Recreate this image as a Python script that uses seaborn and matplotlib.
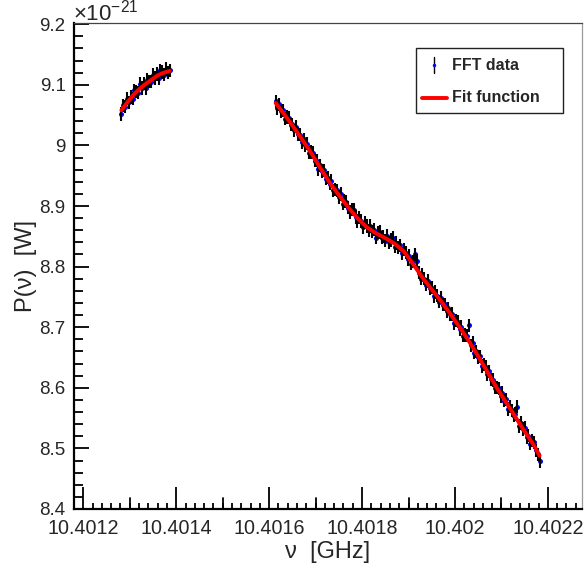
import numpy as np
import pandas as pd
import matplotlib
matplotlib.use("Agg")
import matplotlib.pyplot as plt
from matplotlib.patches import Rectangle
from matplotlib.lines import Line2D
import seaborn as sns

# ---------------- data (frequency offset in kHz from 10.4012 GHz, power in 1e-21 W)
seg1_khz = [82, 86, 90, 94, 98, 102, 106, 110, 114, 118, 122, 126, 130, 134,
            138, 142, 146, 150, 154, 158, 162, 166, 170, 174, 178, 182, 186]
seg1_pow = [9.052, 9.066, 9.064, 9.077, 9.071, 9.080, 9.077, 9.091, 9.089, 9.087,
            9.102, 9.095, 9.102, 9.095, 9.108, 9.106, 9.105, 9.117, 9.111, 9.118,
            9.111, 9.124, 9.121, 9.117, 9.126, 9.120, 9.124]

seg2_khz = [414, 418, 422, 426, 430, 434, 438, 442, 446, 450, 454, 458, 462, 466,
            470, 474, 478, 482, 486, 490, 494, 498, 502, 506, 510, 514, 518, 522,
            526, 530, 534, 538, 542, 546, 550, 554, 558, 562, 566, 570, 574, 578,
            582, 586, 590, 594, 598, 602, 606, 610, 614, 618, 622, 626, 630, 634,
            638, 642, 646, 650, 654, 658, 662, 666, 670, 674, 678, 682, 686, 690,
            694, 698, 702, 706, 710, 714, 718, 722, 726, 730, 734, 738, 742, 746,
            750, 754, 758, 762, 766, 770, 774, 778, 782, 786, 790, 794, 798, 802,
            806, 810, 814, 818, 822, 826, 830, 834, 838, 842, 846, 850, 854, 858,
            862, 866, 870, 874, 878, 882, 886, 890, 894, 898, 902, 906, 910, 914,
            918, 922, 926, 930, 934, 938, 942, 946, 950, 954, 958, 962, 966, 970,
            974, 978, 982]
seg2_pow = [9.073, 9.061, 9.068, 9.056, 9.058, 9.044, 9.047, 9.046, 9.034, 9.035,
            9.025, 9.031, 9.019, 9.018, 9.005, 9.010, 9.000, 9.003, 8.988, 8.989,
            8.988, 8.975, 8.975, 8.961, 8.967, 8.958, 8.959, 8.945, 8.947, 8.937,
            8.942, 8.926, 8.927, 8.926, 8.915, 8.920, 8.904, 8.908, 8.907, 8.897,
            8.890, 8.894, 8.894, 8.882, 8.875, 8.881, 8.875, 8.865, 8.873, 8.867,
            8.860, 8.867, 8.858, 8.861, 8.848, 8.856, 8.857, 8.848, 8.850, 8.843,
            8.851, 8.840, 8.844, 8.848, 8.833, 8.839, 8.832, 8.835, 8.822, 8.828,
            8.823, 8.812, 8.818, 8.805, 8.808, 8.820, 8.809, 8.790, 8.780, 8.787,
            8.780, 8.770, 8.776, 8.764, 8.765, 8.751, 8.758, 8.752, 8.742, 8.749,
            8.737, 8.738, 8.726, 8.731, 8.721, 8.722, 8.707, 8.711, 8.709, 8.697,
            8.701, 8.686, 8.687, 8.686, 8.703, 8.670, 8.674, 8.658, 8.660, 8.651,
            8.652, 8.636, 8.638, 8.635, 8.623, 8.627, 8.614, 8.613, 8.600, 8.601,
            8.599, 8.586, 8.592, 8.579, 8.581, 8.565, 8.569, 8.563, 8.554, 8.557,
            8.569, 8.537, 8.542, 8.532, 8.534, 8.519, 8.521, 8.508, 8.513, 8.510,
            8.497, 8.490, 8.479]

point_err = 0.011

fit1_khz = [82, 90, 100, 110, 120, 130, 140, 150, 160, 170, 180, 186]
fit1_pow = [9.058, 9.066, 9.076, 9.085, 9.0925, 9.099, 9.1045, 9.110, 9.1155,
            9.119, 9.1215, 9.123]
fit2_khz = [414, 430, 450, 470, 490, 510, 530, 550, 570, 590, 610, 630, 650, 670,
            690, 710, 730, 750, 770, 790, 810, 830, 850, 870, 890, 910, 930, 950,
            970, 982]
fit2_pow = [9.070, 9.054, 9.033, 9.011, 8.988, 8.963, 8.939, 8.918, 8.898, 8.880,
            8.865, 8.855, 8.847, 8.838, 8.825, 8.804, 8.782, 8.762, 8.743, 8.722,
            8.700, 8.677, 8.652, 8.626, 8.600, 8.576, 8.552, 8.528, 8.505, 8.488]

base_ghz = 10.4012
x_ticks = [10.4012, 10.4014, 10.4016, 10.4018, 10.4020, 10.4022]
x_tick_labels = ["10.4012", "10.4014", "10.4016", "10.4018", "10.402", "10.4022"]
y_ticks = [8.4, 8.5, 8.6, 8.7, 8.8, 8.9, 9.0, 9.1, 9.2]
y_tick_labels = ["8.4", "8.5", "8.6", "8.7", "8.8", "8.9", "9", "9.1", "9.2"]
legend_labels = ["FFT data", "Fit function"]

# ---------------- tables
data = pd.DataFrame({
    "freq": [base_ghz + k * 1e-6 for k in seg1_khz + seg2_khz],
    "power": seg1_pow + seg2_pow,
})
fit = pd.DataFrame({
    "freq": [base_ghz + k * 1e-6 for k in fit1_khz + fit2_khz],
    "power": fit1_pow + fit2_pow,
    "seg": ["a"] * len(fit1_khz) + ["b"] * len(fit2_khz),
})

sns.set_style("white")
plt.rcParams["font.family"] = ["Liberation Sans", "DejaVu Sans"]
plt.rcParams["mathtext.fontset"] = "custom"
plt.rcParams["mathtext.rm"] = "Liberation Sans"
plt.rcParams["mathtext.it"] = "Liberation Sans:italic"

W, H = 584, 571
fig = plt.figure(figsize=(W / 100, H / 100), dpi=100)
L, R, T, B = 74, 582, 23, 509
ax = fig.add_axes([L / W, 1 - B / H, (R - L) / W, (B - T) / H])

sns.scatterplot(data=data, x="freq", y="power", ax=ax, color="#0000ff",
                marker="o", s=13, linewidth=0, zorder=2, legend=False)
ax.vlines(data["freq"], data["power"] - point_err, data["power"] + point_err,
          color="black", lw=1.5, zorder=3)
sns.lineplot(data=fit, x="freq", y="power", units="seg", estimator=None,
             sort=False, color="red", lw=2.8, ax=ax, zorder=4, legend=False)

ax.set_xlim(10.401193, 10.4022734)
ax.set_ylim(8.4, 9.202)

ax.set_xticks(x_ticks)
ax.set_xticklabels(x_tick_labels)
ax.set_yticks(y_ticks)
ax.set_yticklabels(y_tick_labels)
ax.set_xticks(np.arange(10.40118, 10.40228, 0.00002), minor=True)
ax.set_yticks(np.arange(8.42, 9.2, 0.02), minor=True)

ax.tick_params(axis="y", which="major", direction="in", length=11, width=1.3,
               pad=6, labelsize=13.5, left=True, color="black")
ax.tick_params(axis="y", which="minor", direction="in", length=6.5, width=1.3,
               left=True, color="black")
ax.tick_params(axis="x", which="major", direction="in", length=16, width=1.3,
               pad=7.5, labelsize=14.2, bottom=True, color="black")
ax.tick_params(axis="x", which="minor", direction="in", length=4, width=1.3,
               bottom=True, color="black")

# medium ticks at half-way positions
tr = ax.get_xaxis_transform()
for m in [10.4013, 10.4015, 10.4017, 10.4019, 10.4021]:
    ax.plot([m, m], [0, 11 / (B - T)], color="black", lw=1.3, transform=tr,
            clip_on=False, zorder=5)

for s in ["left", "bottom"]:
    ax.spines[s].set_color("black")
    ax.spines[s].set_linewidth(1.6)
ax.spines["top"].set_color("#444444")
ax.spines["top"].set_linewidth(0.9)
ax.spines["right"].set_color("#9a9a9a")
ax.spines["right"].set_linewidth(0.9)

ax.set_xlabel("ν  [GHz]", fontsize=17)
ax.set_ylabel("P(ν)  [W]", fontsize=17)
ax.xaxis.set_label_coords(0.5, -0.066)
ax.yaxis.set_label_coords(-0.072, 0.5)

fig.text(73 / W, 1 - 20 / H, r"$\mathregular{\times10^{-21}}$", fontsize=16,
         ha="left", va="baseline")

# legend box
lx0, ly0, lx1, ly1 = 416, 48, 563, 113
fig.patches.append(Rectangle((lx0 / W, 1 - ly1 / H), (lx1 - lx0) / W, (ly1 - ly0) / H,
                             transform=fig.transFigure, facecolor="white",
                             edgecolor="#222222", lw=1.0, zorder=10))
fig.lines.append(Line2D([434 / W, 434 / W], [1 - 57 / H, 1 - 73 / H], color="black",
                        lw=1.0, transform=fig.transFigure, zorder=11))
fig.lines.append(Line2D([434 / W], [1 - 65 / H], color="#0000ff", marker="o", ms=2.5,
                        mew=0, transform=fig.transFigure, zorder=12))
fig.lines.append(Line2D([422 / W, 447 / W], [1 - 98 / H, 1 - 98 / H], color="red",
                        lw=2.8, transform=fig.transFigure, zorder=11))
fig.text(452 / W, 1 - 65 / H, legend_labels[0], fontsize=11.5, fontweight="bold",
         ha="left", va="center", zorder=12)
fig.text(452 / W, 1 - 98 / H, legend_labels[1], fontsize=11.5, fontweight="bold",
         ha="left", va="center", zorder=12)

fig.savefig("out.png", dpi=100)
